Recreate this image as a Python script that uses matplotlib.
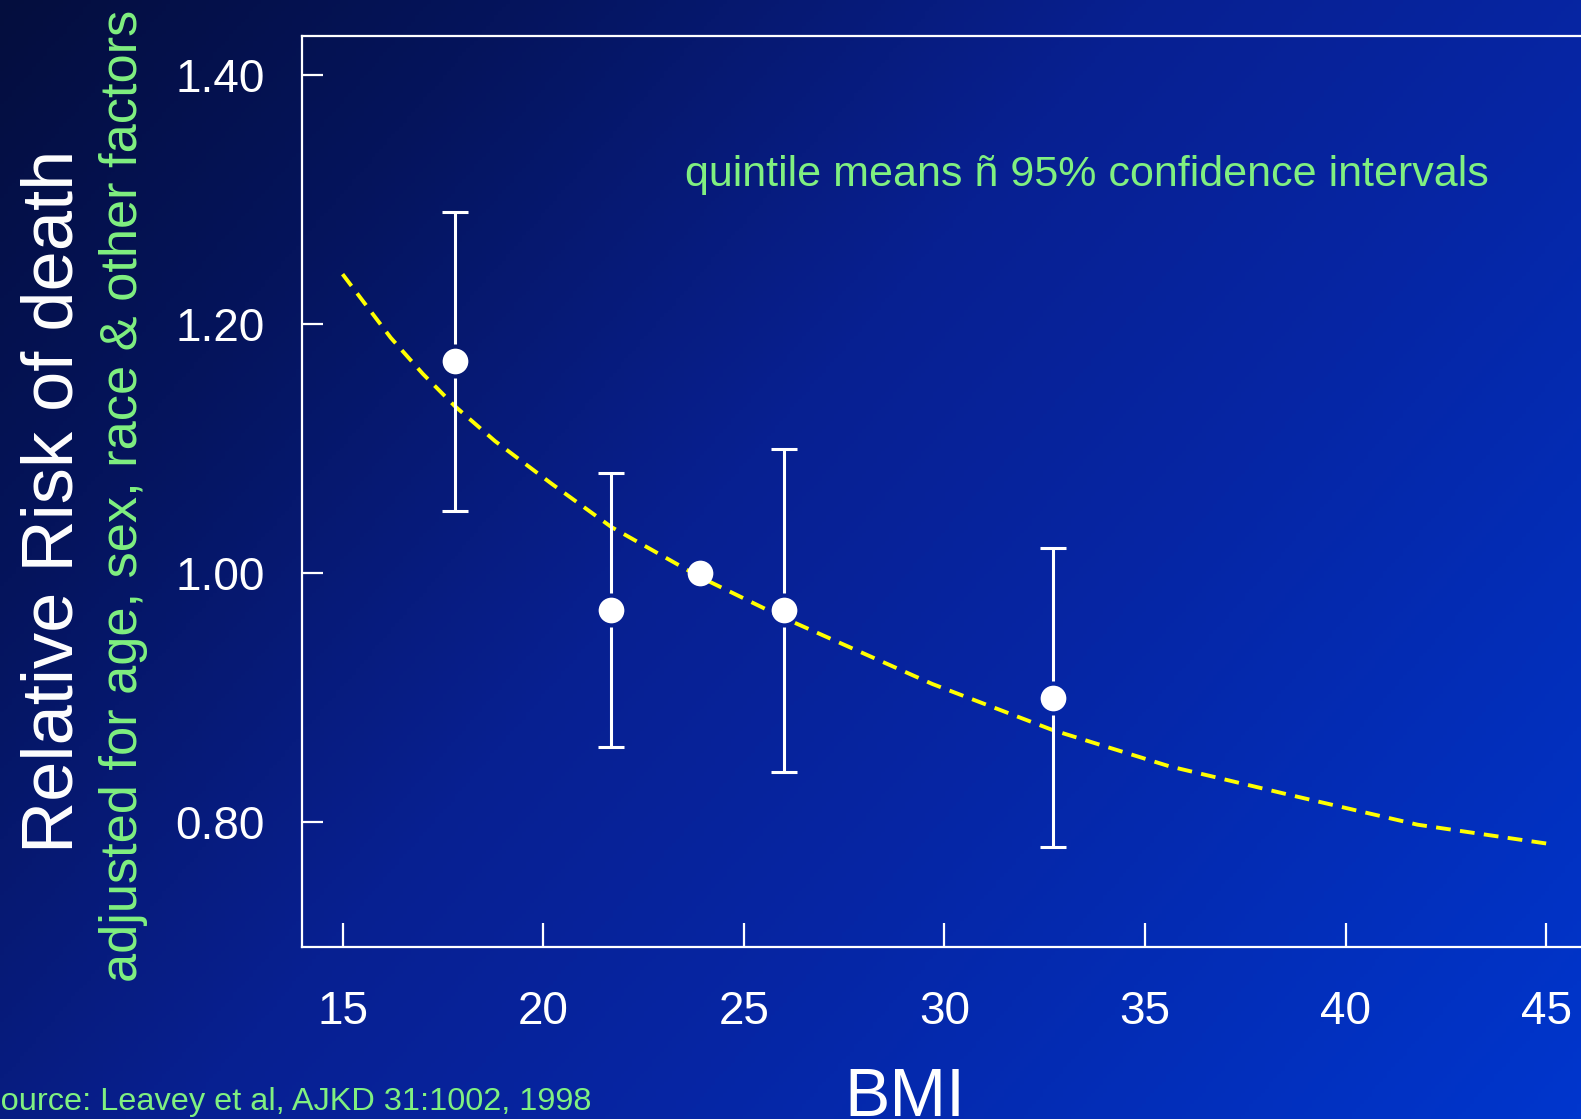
import matplotlib
matplotlib.use("Agg")
import matplotlib.pyplot as plt
import numpy as np
from matplotlib.colors import LinearSegmentedColormap

# quintile means with 95% CI
bmi = [17.8, 21.7, 23.9, 26.0, 32.7]
rr = [1.17, 0.97, 1.00, 0.97, 0.90]
ci_low = [1.05, 0.86, np.nan, 0.84, 0.78]
ci_high = [1.29, 1.08, np.nan, 1.10, 1.02]

# dashed fitted curve
fit_x = [15.0, 16.2, 17.0, 17.8, 18.8, 20.2, 21.7, 23.9, 26.0, 29.7, 32.7, 35.6, 38.6, 41.8, 45.2]
fit_y = [1.240, 1.189, 1.160, 1.134, 1.106, 1.072, 1.037, 0.997, 0.964, 0.911, 0.874, 0.845, 0.822, 0.798, 0.782]

xticks = [15, 20, 25, 30, 35, 40, 45]
yticks = [0.80, 1.00, 1.20, 1.40]
ytick_labels = ["0.80", "1.00", "1.20", "1.40"]

green = "#80f080"
plt.rcParams["font.family"] = ["Liberation Sans", "DejaVu Sans"]

fig = plt.figure(figsize=(15.81, 11.19), dpi=100)

# background gradient
bg = fig.add_axes([0, 0, 1, 1], zorder=-10)
gx, gy = np.meshgrid(np.linspace(0, 1, 400), np.linspace(0, 1, 300))
u = 0.62 * gx + 0.38 * gy
cmap = LinearSegmentedColormap.from_list("bg", [
    (0.0, (4/255, 14/255, 62/255)),
    (0.2, (5/255, 20/255, 92/255)),
    (0.45, (8/255, 32/255, 145/255)),
    (0.65, (6/255, 38/255, 165/255)),
    (1.0, (0/255, 54/255, 205/255)),
])
bg.imshow(u, cmap=cmap, aspect="auto", extent=[0, 1, 0, 1], vmin=0, vmax=1)
bg.set_axis_off()

ax = fig.add_axes([0.1913, 0.1539, 0.8087, 0.8137])
ax.patch.set_alpha(0)
ax.set_xlim(14, 45.87)
ax.set_ylim(0.70, 1.431)

for s in ["left", "top", "bottom"]:
    ax.spines[s].set_color("white")
    ax.spines[s].set_linewidth(1.6)
ax.spines["right"].set_visible(False)

ax.set_xticks(xticks)
ax.set_xticklabels([str(t) for t in xticks])
ax.set_yticks(yticks)
ax.set_yticklabels(ytick_labels)
ax.tick_params(axis="x", direction="in", length=17, width=1.6, color="white",
               labelcolor="white", labelsize=33, pad=31)
ax.tick_params(axis="y", direction="in", length=15, width=1.6, color="white",
               labelcolor="white", labelsize=33, pad=27)

# fitted dashed curve
ax.plot(fit_x, fit_y, color="#ffff00", lw=2.8, linestyle=(0, (3.8, 2.4)), zorder=3)

# error bars with gap around the marker
h_px = 0.8137 * 1119
gap = 17 / h_px * (1.431 - 0.70)
for x, y, lo, hi in zip(bmi, rr, ci_low, ci_high):
    if np.isnan(lo):
        continue
    ax.vlines(x, y + gap, hi, color="white", lw=2.2, zorder=4)
    ax.vlines(x, lo, y - gap, color="white", lw=2.2, zorder=4)
ax.plot(bmi, ci_high, linestyle="none", marker="_", ms=19, mew=2.2, color="white", zorder=4)
ax.plot(bmi, ci_low, linestyle="none", marker="_", ms=19, mew=2.2, color="white", zorder=4)

ax.plot(bmi, rr, linestyle="none", marker="o", ms=18.5, mfc="white", mec="white", mew=0, zorder=5)

fig.text(1087 / 1581, 1 - 186 / 1119, "quintile means \u00f1 95% confidence intervals",
         color=green, fontsize=31, ha="center", va="baseline")

fig.text(905 / 1581, 1 - 1116 / 1119, "BMI", color="white", fontsize=49, ha="center", va="baseline")
fig.text(-21 / 1581, 1 - 1110 / 1119, "Source: Leavey et al, AJKD 31:1002, 1998", color=green,
         fontsize=23.4, ha="left", va="baseline")

fig.text(73 / 1581, 1 - 501 / 1119, "Relative Risk of death", color="white", fontsize=52,
         rotation=90, rotation_mode="anchor", ha="center", va="baseline")
fig.text(137 / 1581, 1 - 496 / 1119, "adjusted for age, sex, race & other factors", color=green,
         fontsize=37.7, rotation=90, rotation_mode="anchor", ha="center", va="baseline")

fig.savefig("out.png", dpi=100)
